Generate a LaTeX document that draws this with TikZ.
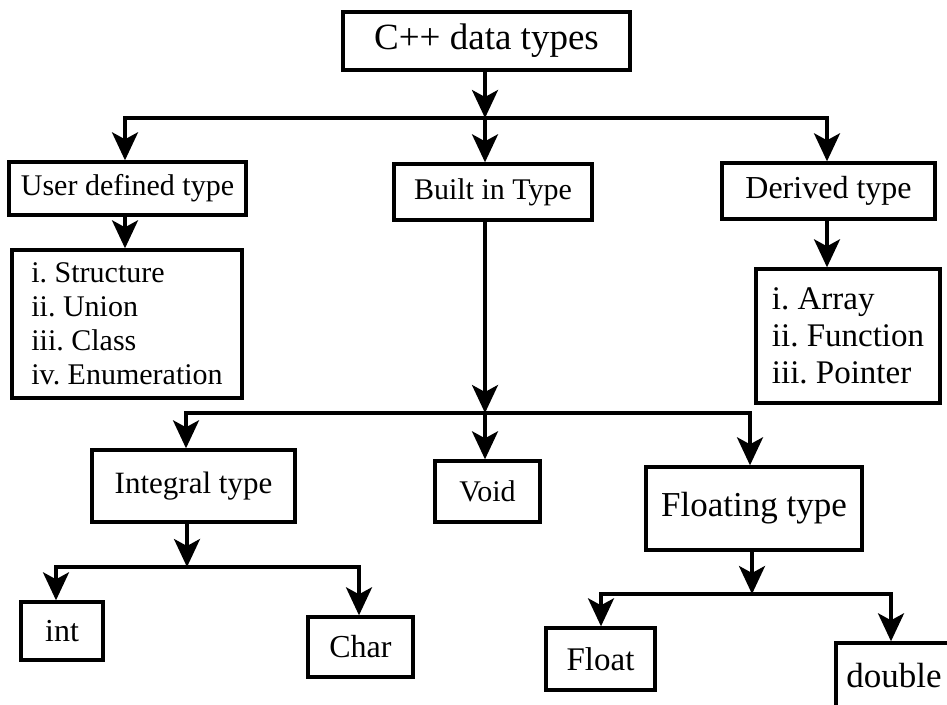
\documentclass[tikz,border=0pt]{standalone}
\usepackage{fontspec}
\setmainfont{Liberation Serif}
\usetikzlibrary{arrows.meta}
\frenchspacing
\begin{document}
\begin{tikzpicture}[x=1pt,y=-1pt,
 box/.style={draw, line width=3.4pt, inner sep=0pt, align=center},
 listbox/.style={draw, line width=3.4pt, inner sep=0pt, align=left},
 arr/.style={line width=3.4pt, -{Stealth[length=28pt,width=26pt,inset=7pt]}},
 ln/.style={line width=3.4pt}]
\useasboundingbox (0,0) rectangle (947,704);
\fill[white] (0,0) rectangle (947,704);

\node[box, minimum width=287, minimum height=58, font=\fontsize{37}{40}\selectfont] (ctop) at (486.5,41) {C++ data types};
\node[box, minimum width=237, minimum height=53, font=\fontsize{30}{34}\selectfont] (user) at (127.5,188.5) {User defined type};
\node[box, minimum width=198, minimum height=56, font=\fontsize{30}{34}\selectfont] (built) at (493,192) {Built in Type};
\node[box, minimum width=213, minimum height=56, font=\fontsize{32}{36}\selectfont] (derived) at (828.5,191) {Derived type};
\node[listbox, minimum width=230, minimum height=148, font=\fontsize{30}{34}\selectfont] (ulist) at (127,324) {i. Structure\\ii. Union\\iii. Class\\iv. Enumeration};
\node[listbox, minimum width=184, minimum height=134, font=\fontsize{33}{37}\selectfont] (dlist) at (848,336) {i. Array\\ii. Function\\iii. Pointer};
\node[box, minimum width=203, minimum height=72, font=\fontsize{31}{34}\selectfont] (integral) at (193.5,486) {Integral type};
\node[box, minimum width=105, minimum height=61, font=\fontsize{30}{34}\selectfont] (void) at (487.5,491.5) {Void};
\node[box, minimum width=216, minimum height=83, font=\fontsize{35}{38}\selectfont] (floating) at (754,508.5) {Floating type};
\node[box, minimum width=82, minimum height=58, font=\fontsize{32}{36}\selectfont] (int) at (62,631) {int};
\node[box, minimum width=105, minimum height=60, font=\fontsize{32}{36}\selectfont] (char) at (360.5,647) {Char};
\node[box, minimum width=109, minimum height=62, font=\fontsize{33}{36}\selectfont] (float) at (600.5,659) {Float};
\node[box, minimum width=116, minimum height=65, font=\fontsize{35}{38}\selectfont] (double) at (894,675.5) {double};

% level 1 bus
\coordinate (j1) at (485,118);
\coordinate (j1l) at (125,118);
\coordinate (j1r) at (827,118);
\draw[arr] (ctop.south -| j1) -- (j1);
\draw[arr] (j1) -| (j1l |- user.north);
\draw[arr] (j1) -| (j1r |- derived.north);
\draw[arr] (j1) -- (j1 |- built.north);
\draw[arr] (j1l |- user.south) -- (j1l |- ulist.north);
\draw[arr] (j1r |- derived.south) -- (j1r |- dlist.north);

% built-in bus
\coordinate (j2) at (485,413);
\coordinate (j2l) at (186,413);
\coordinate (j2r) at (750,413);
\draw[arr] (j1 |- built.south) -- (j2);
\draw[arr] (j2) -| (j2l |- integral.north);
\draw[arr] (j2) -| (j2r |- floating.north);
\draw[arr] (j2) -- (j2 |- void.north);

% integral bus
\coordinate (j3) at (187,567);
\coordinate (j3l) at (56,567);
\coordinate (j3r) at (359,567);
\draw[arr] (integral.south -| j3) -- (j3);
\draw[arr] (j3) -| (j3l |- int.north);
\draw[arr] (j3) -| (j3r |- char.north);

% floating bus
\coordinate (j4) at (752,594);
\coordinate (j4l) at (601,594);
\coordinate (j4r) at (891,594);
\draw[arr] (floating.south -| j4) -- (j4);
\draw[arr] (j4) -| (j4l |- float.north);
\draw[arr] (j4) -| (j4r |- double.north);
\end{tikzpicture}
\end{document}
